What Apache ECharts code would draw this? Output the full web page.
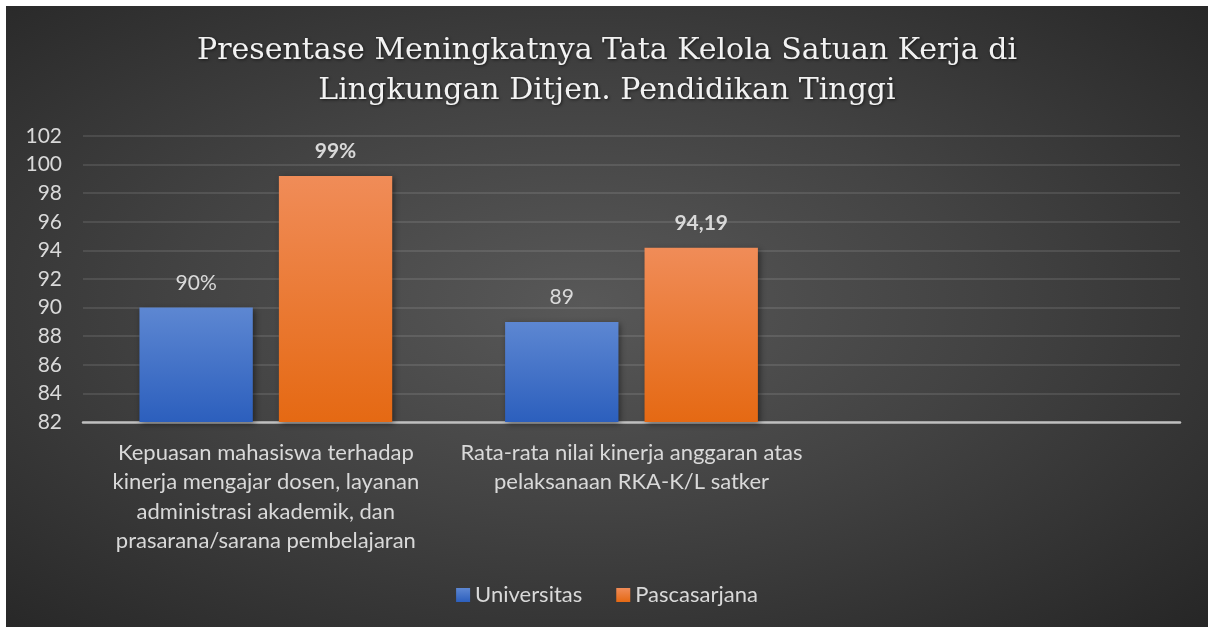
<!DOCTYPE html>
<html>
<head>
<meta charset="utf-8">
<script src="https://cdn.jsdelivr.net/npm/echarts@6/dist/echarts.min.js"></script>
<style>
  html, body { margin: 0; padding: 0; background: #ffffff; }
  #chart {
    position: absolute;
    left: 6px;
    top: 6px;
    width: 1202px;
    height: 621px;
    background: radial-gradient(ellipse at 48% 48%, #585858 0%, #434343 45%, #262626 100%);
  }
</style>
</head>
<body>
<div id="chart"></div>
<script>
// categories (third slot is empty in the original)
const categories = [
  'Kepuasan mahasiswa terhadap\nkinerja mengajar dosen, layanan\nadministrasi akademik, dan\nprasarana/sarana pembelajaran',
  'Rata-rata nilai kinerja anggaran atas\npelaksanaan RKA-K/L satker',
  ''
];
const universitas = [90, 89, null];
const pascasarjana = [99.2, 94.19, null];
const universitasLabels = ['90%', '89', ''];
const pascasarjanaLabels = ['99%', '94,19', ''];

const font = 'Lato, "Open Sans", sans-serif';
const textColor = '#d9d9d9';

const chart = echarts.init(document.getElementById('chart'));

function grad(top, bottom) {
  return new echarts.graphic.LinearGradient(0, 0, 0, 1, [
    { offset: 0, color: top },
    { offset: 1, color: bottom }
  ]);
}

chart.setOption({
  backgroundColor: 'transparent',
  title: {
    text: 'Presentase Meningkatnya Tata Kelola Satuan Kerja di\nLingkungan Ditjen. Pendidikan Tinggi',
    left: 'center',
    top: 20,
    textStyle: {
      fontFamily: '"DejaVu Serif", serif',
      fontWeight: 'normal',
      fontSize: 30,
      lineHeight: 40,
      color: '#f2f2f2',
      textShadowColor: 'rgba(0,0,0,0.6)',
      textShadowBlur: 3,
      textShadowOffsetX: 1,
      textShadowOffsetY: 1
    }
  },
  legend: {
    bottom: 16,
    left: 'center',
    itemWidth: 14,
    itemHeight: 14,
    itemGap: 34,
    icon: 'rect',
    textStyle: { color: textColor, fontSize: 22, fontFamily: font },
    data: ['Universitas', 'Pascasarjana']
  },
  grid: {
    left: 77,
    right: 28,
    top: 130,
    bottom: 205,
    containLabel: false
  },
  xAxis: {
    type: 'category',
    data: categories,
    axisTick: { show: false },
    axisLine: { lineStyle: { color: '#bfbfbf', width: 2.5 } },
    axisLabel: {
      interval: 0,
      color: textColor,
      fontSize: 22,
      lineHeight: 29.5,
      fontFamily: font,
      margin: 16,
      align: 'center'
    }
  },
  yAxis: {
    type: 'value',
    min: 82,
    max: 102,
    interval: 2,
    axisLine: { show: false },
    axisTick: { show: false },
    axisLabel: { color: textColor, fontSize: 21, fontFamily: font, margin: 21 },
    splitLine: { lineStyle: { color: 'rgba(255,255,255,0.1)', width: 2 } }
  },
  series: [
    {
      name: 'Universitas',
      type: 'bar',
      data: universitas,
      barWidth: '31%',
      barGap: '23%',
      itemStyle: {
        color: grad('#5d87d2', '#2c5fbd'),
        shadowColor: 'rgba(0,0,0,0.45)',
        shadowBlur: 6,
        shadowOffsetX: 2,
        shadowOffsetY: 2
      },
      label: {
        show: true,
        position: 'top',
        distance: 14,
        color: textColor,
        fontSize: 21,
        fontFamily: font,
        formatter: p => universitasLabels[p.dataIndex]
      }
    },
    {
      name: 'Pascasarjana',
      type: 'bar',
      data: pascasarjana,
      barWidth: '31%',
      itemStyle: {
        color: grad('#f08c58', '#e56913'),
        shadowColor: 'rgba(0,0,0,0.45)',
        shadowBlur: 6,
        shadowOffsetX: 2,
        shadowOffsetY: 2
      },
      label: {
        show: true,
        position: 'top',
        distance: 14,
        color: textColor,
        fontSize: 21,
        fontWeight: 'bold',
        fontFamily: font,
        formatter: p => pascasarjanaLabels[p.dataIndex]
      }
    }
  ]
});
</script>
</body>
</html>
